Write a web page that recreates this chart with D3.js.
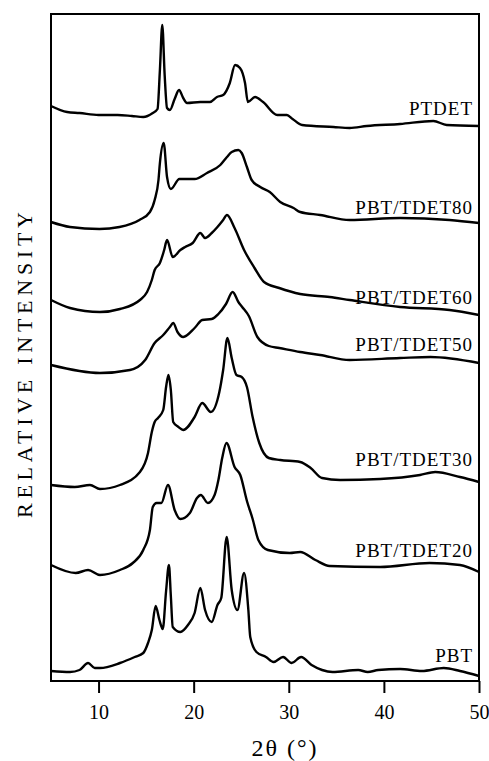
<!DOCTYPE html>
<html>
<head>
<meta charset="utf-8">
<script src="https://cdn.jsdelivr.net/npm/d3@7"></script>
<style>
  body { margin: 0; background: #fff; }
  svg { display: block; }
  text { font-family: 'Liberation Serif', 'Times New Roman', serif; fill: #000; }
</style>
</head>
<body>
<div id="chart"></div>
<script>
// X-ray diffraction patterns, stacked (intensity in arbitrary units, offsets included)
// each series: [2theta (deg), intensity]
const ptdet = [
  [5.0, 575], [6.7, 569], [8.0, 568], [10.0, 566], [12.0, 566], [13.5, 565], [14.7, 564],
  [15.7, 568], [16.2, 572], [16.45, 611], [16.7, 656], [16.95, 606], [17.2, 573], [17.5, 571],
  [18.0, 582], [18.46, 591], [18.9, 583], [19.3, 578], [20.7, 579], [21.7, 579], [22.45, 584],
  [23.1, 586], [23.8, 598], [24.35, 616], [24.87, 613], [25.4, 598], [25.7, 579], [26.45, 584],
  [27.3, 579], [28.8, 566], [29.8, 566], [30.4, 562], [31.4, 556], [34.7, 554], [36.4, 553],
  [38.2, 555], [41.7, 557], [45.2, 560], [46.6, 556], [50.0, 555]
]
const pbtTdet80 = [
  [5.0, 459], [7.0, 454], [10.1, 452], [12.2, 454], [14.3, 461], [15.4, 469], [15.9, 481],
  [16.3, 501], [16.45, 518], [16.85, 538], [17.2, 504], [17.6, 492], [18.5, 502], [20.1, 502],
  [21.4, 508], [22.8, 516], [23.5, 524], [24.0, 529], [24.7, 531], [25.05, 528], [25.6, 514],
  [26.1, 501], [27.0, 494], [28.0, 489], [29.1, 479], [30.5, 473], [31.2, 469], [33.3, 466],
  [36.4, 461], [41.7, 463], [46.9, 461], [50.0, 458]
]
const pbtTdet60 = [
  [5.0, 381], [7.0, 373], [10.15, 369], [12.25, 372], [14.35, 381], [15.1, 389], [15.6, 401],
  [15.9, 411], [16.45, 418], [16.9, 431], [17.2, 441], [17.8, 424], [18.6, 431], [19.1, 434],
  [19.9, 438], [20.7, 448], [21.2, 443], [21.9, 448], [22.5, 454], [23.1, 461], [23.5, 466],
  [24.3, 453], [25.3, 431], [26.4, 413], [27.4, 399], [29.0, 393], [31.2, 387], [34.3, 384],
  [36.4, 381], [41.7, 374], [46.9, 371], [50.0, 366]
]
const pbtTdet50 = [
  [5.0, 316], [10.15, 308], [13.3, 311], [14.9, 321], [15.9, 338], [16.8, 346], [17.5, 354],
  [17.85, 358], [18.3, 349], [18.9, 344], [20.1, 353], [20.9, 361], [21.9, 362], [22.6, 367],
  [23.4, 377], [24.1, 389], [24.7, 379], [25.1, 374], [25.8, 365], [26.7, 344], [27.9, 335],
  [29.0, 333], [31.2, 329], [33.3, 326], [36.4, 321], [41.7, 323], [44.9, 324], [50.0, 318]
]
const pbtTdet30 = [
  [5.0, 196], [7.5, 194], [9.1, 196], [10.15, 192], [12.25, 196], [14.35, 209], [15.2, 228],
  [15.6, 249], [15.9, 259], [16.25, 263], [16.8, 271], [17.1, 294], [17.35, 306], [17.6, 291],
  [17.85, 259], [18.4, 254], [18.9, 251], [20.1, 264], [20.9, 278], [21.8, 269], [22.7, 289],
  [23.1, 311], [23.55, 343], [24.0, 323], [24.5, 306], [25.05, 304], [25.6, 294], [26.2, 264],
  [26.9, 238], [27.9, 223], [29.1, 221], [31.2, 219], [32.3, 213], [33.5, 203], [35.4, 201],
  [39.6, 202], [43.8, 206], [45.4, 209], [48.0, 204], [50.0, 199]
]
const pbtTdet20 = [
  [5.0, 116], [7.6, 108], [8.9, 111], [10.15, 106], [12.25, 111], [13.6, 118], [14.7, 131],
  [15.4, 151], [15.7, 174], [16.1, 178], [16.6, 178], [17.3, 196], [18.0, 171], [18.6, 162],
  [19.6, 168], [20.35, 183], [20.75, 186], [21.5, 178], [22.2, 186], [22.6, 201], [23.0, 223],
  [23.45, 238], [24.3, 214], [24.9, 206], [25.6, 180], [26.2, 162], [26.8, 141], [27.8, 131],
  [30.1, 128], [31.2, 129], [32.8, 121], [34.3, 115], [39.6, 114], [44.8, 118], [48.0, 116],
  [50.0, 109]
]
const pbt = [
  [5.0, 10], [7.0, 9], [8.0, 11], [8.9, 18], [9.6, 13], [10.15, 13], [12.25, 18], [13.8, 24],
  [14.7, 28], [15.2, 38], [15.6, 51], [16.0, 75], [16.4, 61], [16.75, 52], [17.1, 90],
  [17.4, 116], [17.6, 85], [17.8, 54], [18.6, 49], [19.4, 56], [20.1, 68], [20.7, 93],
  [21.2, 71], [21.9, 59], [22.5, 76], [22.9, 83], [23.47, 144], [24.0, 91], [24.6, 71],
  [25.3, 108], [25.75, 71], [25.95, 44], [26.6, 29], [27.6, 24], [28.4, 19], [29.4, 24],
  [30.3, 18], [31.3, 24], [32.4, 16], [33.5, 11], [34.6, 9], [37.3, 11], [38.3, 9], [39.4, 11],
  [41.7, 12], [44.0, 10], [46.3, 13], [48.0, 10], [50.0, 5]
]

const seriesNames = ['PTDET', 'PBT/TDET80', 'PBT/TDET60', 'PBT/TDET50', 'PBT/TDET30', 'PBT/TDET20', 'PBT']
const seriesData = [ptdet, pbtTdet80, pbtTdet60, pbtTdet50, pbtTdet30, pbtTdet20, pbt]
const xTicks = [10, 20, 30, 40, 50]

const width = 489
const height = 761
const margin = {top: 14, right: 10, bottom: 80, left: 51}
const serif = "'Liberation Serif', 'Times New Roman', serif"

const svg = d3.select('#chart').append('svg')
  .attr('width', width)
  .attr('height', height)

const x = d3.scaleLinear()
  .domain([5, 50])
  .range([margin.left, width - margin.right])

const y = d3.scaleLinear()
  .domain([0, 667])
  .range([height - margin.bottom, margin.top])

// frame
svg.append('rect')
  .attr('x', x.range()[0])
  .attr('y', y.range()[1])
  .attr('width', x.range()[1] - x.range()[0])
  .attr('height', y.range()[0] - y.range()[1])
  .attr('fill', 'none')
  .attr('stroke', '#000')
  .attr('stroke-width', 2)

// x axis: ticks pointing down, serif labels
const xAxis = svg.append('g')
  .attr('transform', `translate(0, ${y.range()[0]})`)
  .attr('font-family', serif)
  .call(d3.axisBottom(x).tickValues(xTicks).tickSize(12).tickPadding(26).tickSizeOuter(0))

xAxis.select('.domain').remove()
xAxis.selectAll('.tick line').attr('stroke', '#000').attr('stroke-width', 2)
xAxis.selectAll('.tick text')
  .attr('dy', null)
  .style('font-family', serif)
  .style('font-size', '20px')

svg.append('text')
  .attr('x', (x.range()[0] + x.range()[1]) / 2 + 20)
  .attr('y', 756)
  .attr('text-anchor', 'middle')
  .style('font-family', serif)
  .style('font-size', '24px')
  .style('letter-spacing', '2px')
  .text('2θ (°)')

svg.append('text')
  .attr('transform', `translate(32, 365) rotate(-90)`)
  .attr('text-anchor', 'middle')
  .attr('textLength', 306)
  .attr('lengthAdjust', 'spacing')
  .style('font-family', serif)
  .style('font-size', '22px')
  .text('RELATIVE INTENSITY')

// curves
const line = d3.line()
  .x(d => x(d[0]))
  .y(d => y(d[1]))
  .curve(d3.curveMonotoneX)

const gCurves = svg.append('g')

seriesData.forEach((data, i) => {
  gCurves.append('path')
    .datum(data)
    .attr('d', line)
    .attr('fill', 'none')
    .attr('stroke', '#000')
    .attr('stroke-width', 2.4)
    .attr('stroke-linejoin', 'round')

  // label sits just above the tail of its own curve
  const tailMax = d3.max(data.filter(d => d[0] >= 42), d => d[1])
  gCurves.append('text')
    .attr('x', x(50) - 6)
    .attr('y', y(tailMax) - 6)
    .attr('text-anchor', 'end')
    .style('font-family', serif)
    .style('font-size', '19px')
    .style('letter-spacing', '1px')
    .text(seriesNames[i])
})
</script>
</body>
</html>
